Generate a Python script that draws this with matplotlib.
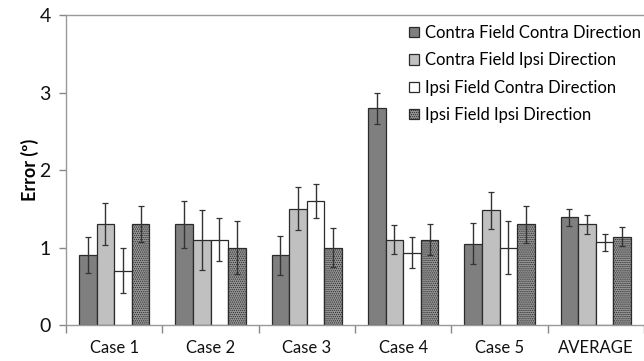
import matplotlib.pyplot as plt
import numpy as np

plt.rcParams['font.family'] = ['Lato', 'DejaVu Sans']
plt.rcParams['hatch.color'] = '#5a5a5a'
plt.rcParams['hatch.linewidth'] = 0.6

cases = ['Case 1', 'Case 2', 'Case 3', 'Case 4', 'Case 5', 'AVERAGE']
series = ['Contra Field Contra Direction', 'Contra Field Ipsi Direction',
          'Ipsi Field Contra Direction', 'Ipsi Field Ipsi Direction']

contra_contra = [0.90, 1.30, 0.90, 2.80, 1.05, 1.39]
contra_ipsi = [1.30, 1.10, 1.50, 1.10, 1.48, 1.30]
ipsi_contra = [0.70, 1.10, 1.60, 0.93, 1.00, 1.07]
ipsi_ipsi = [1.30, 1.00, 1.00, 1.10, 1.30, 1.14]

err_contra_contra = [0.23, 0.30, 0.25, 0.20, 0.26, 0.11]
err_contra_ipsi = [0.27, 0.39, 0.28, 0.19, 0.24, 0.12]
err_ipsi_contra = [0.29, 0.28, 0.22, 0.20, 0.34, 0.11]
err_ipsi_ipsi = [0.23, 0.34, 0.25, 0.20, 0.24, 0.12]

values = [contra_contra, contra_ipsi, ipsi_contra, ipsi_ipsi]
errors = [err_contra_contra, err_contra_ipsi, err_ipsi_contra, err_ipsi_ipsi]
faces = ['#7f7f7f', '#c0c0c0', '#ffffff', '#969696']
hatches = [None, None, None, '........']

fig = plt.figure(figsize=(6.44, 3.61), dpi=100)
ax = fig.add_axes([0.1025, 0.0997, 0.8975, 0.8587])

x = np.arange(len(cases))
w = 0.183
for i in range(4):
    pos = x + (i - 1.5) * w
    ax.bar(pos, values[i], w, color=faces[i], edgecolor='#2b2b2b', linewidth=0.9,
           hatch=hatches[i], label=series[i], zorder=2)
    ax.errorbar(pos, values[i], yerr=errors[i], fmt='none', ecolor='#333333',
                elinewidth=1.0, capsize=2.5, capthick=0.9, zorder=3)

ax.set_xlim(-0.5, len(cases) - 0.5)
ax.set_ylim(0, 4)
ax.set_yticks([0, 1, 2, 3, 4])
ax.set_xticks(x)
ax.set_xticklabels(cases)
ax.set_xticks(np.arange(-0.5, len(cases)), minor=True)
ax.tick_params(axis='x', which='major', length=0, pad=11, labelsize=12, labelcolor='#111111')
ax.tick_params(axis='x', which='minor', length=6, color='#888888', width=1)
ax.tick_params(axis='y', length=5, color='#888888', width=1, labelsize=14, pad=6,
               labelcolor='#111111')

for s in ['left', 'bottom', 'top']:
    ax.spines[s].set_color('#999999')
    ax.spines[s].set_linewidth(1)
ax.spines['right'].set_visible(False)

ax.set_ylabel('Error (º)', fontsize=13, fontweight='bold', labelpad=0)

ax.legend(loc='upper right', bbox_to_anchor=(1.012, 1.0), frameon=False, fontsize=12,
          handlelength=0.6, handleheight=0.6, handletextpad=0.35, labelspacing=0.68,
          borderaxespad=0.2)

fig.savefig('out.png', dpi=100)
